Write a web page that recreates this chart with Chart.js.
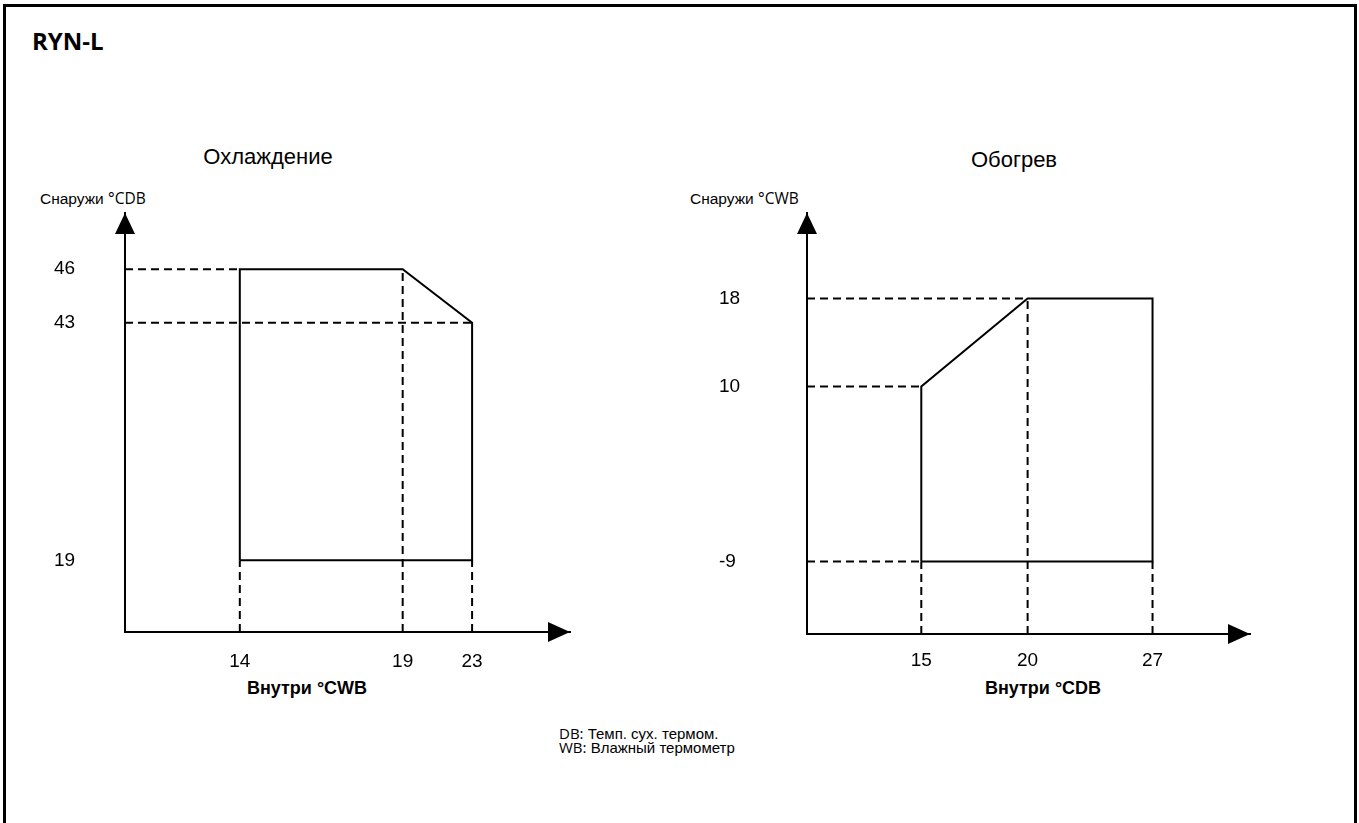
<!DOCTYPE html>
<html>
<head>
<meta charset="utf-8">
<script src="https://cdn.jsdelivr.net/npm/chart.js"></script>
<style>
  html, body { margin: 0; padding: 0; background: #fff; }
  body { width: 1359px; height: 823px; overflow: hidden; position: relative; font-family: "Liberation Sans", Arial, sans-serif; color: #000; }
  .frame { position: absolute; left: 3px; top: 4px; width: 1348px; height: 900px; border: 3px solid #000; box-sizing: content-box; }
  .t { position: absolute; white-space: nowrap; line-height: 1; }
  .c { transform: translate(-50%, -50%); }
  .l { transform: translate(0, -50%); }
  .thin { font-family: "Liberation Sans Narrow", "Open Sans", sans-serif; }
  canvas { position: absolute; }
</style>
</head>
<body>
<div class="frame"></div>

<div class="t l" style="left:32px; top:41px; font-family:'Open Sans',sans-serif; font-weight:700; font-size:24px;">RYN-L</div>

<div class="t c" style="left:268px; top:157px; font-size:22px;">Охлаждение</div>
<div class="t l" style="left:40px; top:199px; font-size:15.5px;">Снаружи <span class="thin">°CDB</span></div>
<div class="t c" style="left:307px; top:688px; font-size:18px; font-weight:700;">Внутри °CWB</div>

<div class="t c" style="left:1014px; top:160px; font-size:22px;">Обогрев</div>
<div class="t l" style="left:690px; top:199px; font-size:15.5px;">Снаружи <span class="thin">°CWB</span></div>
<div class="t c" style="left:1043px; top:688px; font-size:18px; font-weight:700;">Внутри °CDB</div>

<div class="t l" style="left:559px; top:733px; font-size:15px;"><span class="thin">DB:</span> Темп. сух. термом.</div>
<div class="t l" style="left:559px; top:747px; font-size:15px;"><span class="thin">WB:</span> Влажный термометр</div>

<canvas id="cool" width="580" height="500" style="left:20px; top:190px;"></canvas>
<canvas id="heat" width="580" height="500" style="left:700px; top:190px;"></canvas>

<script>
// Охлаждение
const coolXTicks = [14, 19, 23];          // Внутри °CWB
const coolYTicks = [19, 43, 46];          // Снаружи °CDB
const coolXRange = [10, 27];
const coolYRange = [15, 50];
const coolEdgeX = [14, 14, 19, 23, 23, 14];
const coolEdgeY = [19, 46, 46, 43, 19, 19];
// dashed guides: horizontal ones go from the y axis to guideHTo, vertical ones from the x axis up to guideVTo
const coolGuideH = [46, 43];
const coolGuideHTo = [14, 23];
const coolGuideV = [14, 19, 23];
const coolGuideVTo = [19, 46, 19];

// Обогрев
const heatXTicks = [15, 20, 27];          // Внутри °CDB
const heatYTicks = [-9, 10, 18];          // Снаружи °CWB
const heatXRange = [10, 32];
const heatYRange = [-13, 22];
const heatEdgeX = [15, 15, 20, 27, 27, 15];
const heatEdgeY = [-9, 10, 18, 18, -9, -9];
const heatGuideH = [18, 10, -9];
const heatGuideHTo = [20, 15, 15];
const heatGuideV = [15, 20, 27];
const heatGuideVTo = [-9, 18, -9];

// the diagram is schematic: where each tick sits along its axis (0 = origin, 1 = arrow tip)
const coolXAt = [0.258, 0.624, 0.780];
const coolYAt = [0.171, 0.738, 0.866];
const heatXAt = [0.258, 0.498, 0.780];
const heatYAt = [0.172, 0.588, 0.797];

Chart.defaults.font.family = '"Liberation Sans", Arial, sans-serif';
Chart.defaults.color = '#000';

const scaleMaps = {};

// linear scale that is stretched piecewise between the tick values
class StopScale extends Chart.LinearScale {
  static id = 'stops';
  stopMap() { return scaleMaps[this.chart.canvas.id][this.axis]; }
  getPixelForValue(v) {
    const m = this.stopMap();
    const vs = m.values, at = m.at;
    let d;
    if (v <= vs[0]) d = at[0];
    else if (v >= vs[vs.length - 1]) d = at[at.length - 1];
    else {
      for (let i = 1; i < vs.length; i++) {
        if (v <= vs[i]) {
          d = at[i - 1] + (v - vs[i - 1]) / (vs[i] - vs[i - 1]) * (at[i] - at[i - 1]);
          break;
        }
      }
    }
    return this.getPixelForDecimal(d);
  }
  getValueForPixel(p) {
    const m = this.stopMap();
    const d = this.getDecimalForPixel(p);
    for (let i = 1; i < m.at.length; i++) {
      if (d <= m.at[i]) {
        return m.values[i - 1] + (d - m.at[i - 1]) / (m.at[i] - m.at[i - 1]) * (m.values[i] - m.values[i - 1]);
      }
    }
    return m.values[m.values.length - 1];
  }
}
Chart.register(StopScale);

// filled arrow heads at the ends of both axes
const axisArrows = {
  id: 'axisArrows',
  afterDraw(chart) {
    const { ctx, chartArea: a } = chart;
    ctx.save();
    ctx.fillStyle = '#000';
    ctx.beginPath();
    ctx.moveTo(a.left, a.top);
    ctx.lineTo(a.left - 10, a.top + 21);
    ctx.lineTo(a.left + 10, a.top + 21);
    ctx.closePath();
    ctx.fill();
    ctx.beginPath();
    ctx.moveTo(a.right, a.bottom);
    ctx.lineTo(a.right - 22, a.bottom - 10);
    ctx.lineTo(a.right - 22, a.bottom + 10);
    ctx.closePath();
    ctx.fill();
    ctx.restore();
  }
};

function dashed(points) {
  return { data: points, borderColor: '#000', borderWidth: 2, borderDash: [8, 5], pointRadius: 0, tension: 0 };
}

function makeChart(id, o) {
  scaleMaps[id] = {
    x: { values: [o.xRange[0], ...o.xTicks, o.xRange[1]], at: [0, ...o.xAt, 1] },
    y: { values: [o.yRange[0], ...o.yTicks, o.yRange[1]], at: [0, ...o.yAt, 1] }
  };

  const datasets = [];
  o.guideH.forEach((v, i) => datasets.push(dashed([{ x: o.xRange[0], y: v }, { x: o.guideHTo[i], y: v }])));
  o.guideV.forEach((v, i) => datasets.push(dashed([{ x: v, y: o.yRange[0] }, { x: v, y: o.guideVTo[i] }])));
  datasets.push({
    data: o.edgeX.map((x, i) => ({ x: x, y: o.edgeY[i] })),
    borderColor: '#000',
    borderWidth: 2,
    pointRadius: 0,
    tension: 0
  });

  new Chart(document.getElementById(id), {
    type: 'line',
    data: { datasets: datasets },
    options: {
      responsive: false,
      animation: false,
      events: [],
      layout: { padding: { top: 23, right: 30, left: o.padLeft, bottom: 0 } },
      plugins: { legend: { display: false }, tooltip: { enabled: false } },
      scales: {
        x: {
          type: 'stops',
          min: o.xRange[0],
          max: o.xRange[1],
          grid: { display: false, drawTicks: false },
          border: { display: true, color: '#000', width: 2 },
          ticks: { autoSkip: false, maxRotation: 0, padding: o.xPad, font: { size: 19 }, color: '#000' },
          afterBuildTicks: s => { s.ticks = o.xTicks.map(v => ({ value: v })); },
          afterFit: s => { s.height = o.xHeight; }
        },
        y: {
          type: 'stops',
          min: o.yRange[0],
          max: o.yRange[1],
          grid: { display: false, drawTicks: false },
          border: { display: true, color: '#000', width: 2 },
          ticks: { autoSkip: false, padding: 0, crossAlign: 'far', font: { size: 19 }, color: '#000' },
          afterBuildTicks: s => { s.ticks = o.yTicks.map(v => ({ value: v })); },
          afterFit: s => { s.width = o.yWidth; }
        }
      }
    },
    plugins: [axisArrows]
  });
}

makeChart('cool', {
  xTicks: coolXTicks, yTicks: coolYTicks, xRange: coolXRange, yRange: coolYRange,
  xAt: coolXAt, yAt: coolYAt,
  edgeX: coolEdgeX, edgeY: coolEdgeY,
  guideH: coolGuideH, guideHTo: coolGuideHTo, guideV: coolGuideV, guideVTo: coolGuideVTo,
  xPad: 18, padLeft: 34, xHeight: 58, yWidth: 71
});

makeChart('heat', {
  xTicks: heatXTicks, yTicks: heatYTicks, xRange: heatXRange, yRange: heatYRange,
  xAt: heatXAt, yAt: heatYAt,
  edgeX: heatEdgeX, edgeY: heatEdgeY,
  guideH: heatGuideH, guideHTo: heatGuideHTo, guideV: heatGuideV, guideVTo: heatGuideVTo,
  xPad: 15, padLeft: 19, xHeight: 56, yWidth: 88
});
</script>
</body>
</html>
